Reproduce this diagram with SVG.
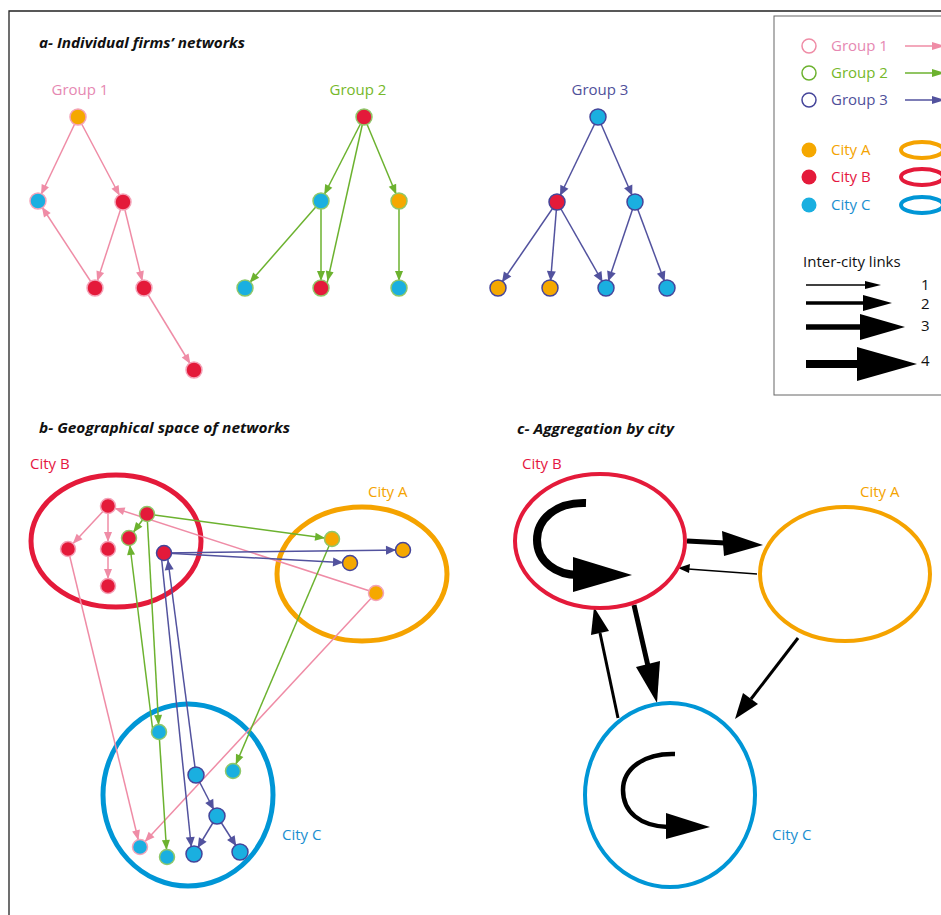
<svg xmlns="http://www.w3.org/2000/svg" width="941" height="915" viewBox="0 0 941 915">
<style>
text{font-family:"Open Sans","Liberation Sans",sans-serif;}
.title{font-weight:bold;font-style:italic;font-size:14px;fill:#111}
.lbl{font-size:15px}
.c1{fill:#e688b2}.c2{fill:#76b82a}.c3{fill:#4f509a}
.cA{fill:#f4a300}.cB{fill:#e5173f}.cC{fill:#1b8fd0}
.e1{stroke:#ef8ca6;stroke-width:1.5;fill:none;marker-end:url(#m1)}
.e2{stroke:#6cb22f;stroke-width:1.5;fill:none;marker-end:url(#m2)}
.e3{stroke:#52529e;stroke-width:1.5;fill:none;marker-end:url(#m3)}
.nO{fill:#f5a800}.nR{fill:#e41a3a}.nB{fill:#1aafe0}
.s1{stroke:#f4a3b8;stroke-width:1.5}.s2{stroke:#8fc86a;stroke-width:1.5}.s3{stroke:#45459a;stroke-width:1.5}
.blk{stroke:#000;fill:none}
.hd{fill:#000}
</style>
<defs>
<marker id="m1" viewBox="0 0 30 20" markerWidth="30" markerHeight="20" markerUnits="userSpaceOnUse" refX="22" refY="10" orient="auto"><path d="M5,6 L15,10 L5,14 z" fill="#ef8ca6"/></marker>
<marker id="m2" viewBox="0 0 30 20" markerWidth="30" markerHeight="20" markerUnits="userSpaceOnUse" refX="22" refY="10" orient="auto"><path d="M5,6 L15,10 L5,14 z" fill="#6cb22f"/></marker>
<marker id="m3" viewBox="0 0 30 20" markerWidth="30" markerHeight="20" markerUnits="userSpaceOnUse" refX="22" refY="10" orient="auto"><path d="M5,5.5 L15,10 L5,14.5 z" fill="#52529e"/></marker>
</defs>
<rect width="941" height="915" fill="#fff"/>
<path d="M9,915 L9,11 L941,11" fill="none" stroke="#222" stroke-width="1.3"/>

<!-- Titles -->
<text class="title" x="39" y="48" textLength="206" lengthAdjust="spacingAndGlyphs">a- Individual firms’ networks</text>
<text class="title" x="39" y="433" textLength="251" lengthAdjust="spacingAndGlyphs">b- Geographical space of networks</text>
<text class="title" x="517" y="434" textLength="157" lengthAdjust="spacingAndGlyphs">c- Aggregation by city</text>

<text class="lbl c1" x="80" y="95" text-anchor="middle">Group 1</text>
<text class="lbl c2" x="358" y="95" text-anchor="middle">Group 2</text>
<text class="lbl c3" x="600" y="95" text-anchor="middle">Group 3</text>

<!-- Legend -->
<g id="legend">
<rect x="774" y="16" width="200" height="379" fill="none" stroke="#666" stroke-width="1"/>
<circle cx="809" cy="46" r="7" fill="none" stroke="#ef8ca6" stroke-width="1.5"/>
<circle cx="809" cy="73" r="7" fill="none" stroke="#6cb22f" stroke-width="1.5"/>
<circle cx="809" cy="100" r="7" fill="none" stroke="#45459a" stroke-width="1.5"/>
<text class="lbl c1" x="831" y="51">Group 1</text>
<text class="lbl c2" x="831" y="78">Group 2</text>
<text class="lbl c3" x="831" y="105">Group 3</text>
<line x1="905" y1="46" x2="935" y2="46" stroke="#ef8ca6" stroke-width="1.5"/><polygon points="932,42 945,46 932,50" fill="#ef8ca6"/>
<line x1="905" y1="73" x2="935" y2="73" stroke="#6cb22f" stroke-width="1.5"/><polygon points="932,69 945,73 932,77" fill="#6cb22f"/>
<line x1="905" y1="100" x2="935" y2="100" stroke="#52529e" stroke-width="1.5"/><polygon points="932,96 945,100 932,104" fill="#52529e"/>
<circle cx="809" cy="150" r="7.5" class="nO"/>
<circle cx="809" cy="177" r="7.5" class="nR"/>
<circle cx="809" cy="205" r="7.5" class="nB"/>
<text class="lbl cA" x="831" y="155">City A</text>
<text class="lbl cB" x="831" y="182">City B</text>
<text class="lbl cC" x="831" y="210">City C</text>
<ellipse cx="922" cy="150" rx="21" ry="8" fill="none" stroke="#f5a300" stroke-width="4"/>
<ellipse cx="922" cy="177" rx="21" ry="8" fill="none" stroke="#e41a3a" stroke-width="4"/>
<ellipse cx="922" cy="205" rx="21" ry="8" fill="none" stroke="#0096d6" stroke-width="4"/>
<text class="lbl" x="803" y="267" fill="#111">Inter-city links</text>
<line x1="806" y1="285" x2="867" y2="285" class="blk" stroke-width="1.5"/><polygon class="hd" points="865,281 881,285 865,289"/>
<line x1="806" y1="303" x2="865" y2="303" class="blk" stroke-width="3.5"/><polygon class="hd" points="863,295 892,303 863,311"/>
<line x1="806" y1="327" x2="862" y2="327" class="blk" stroke-width="5.5"/><polygon class="hd" points="860,314 905,327 860,340"/>
<line x1="806" y1="364" x2="859" y2="364" class="blk" stroke-width="8"/><polygon class="hd" points="857,347 917,364 857,381"/>
<text class="lbl" x="921" y="290" fill="#111">1</text>
<text class="lbl" x="921" y="309" fill="#111">2</text>
<text class="lbl" x="921" y="331" fill="#111">3</text>
<text class="lbl" x="921" y="366" fill="#111">4</text>
</g>

<!-- City ellipses panel b -->
<g id="b-cityB"><ellipse cx="116" cy="541" rx="85" ry="66" fill="none" stroke="#e41a3a" stroke-width="5"/><text class="lbl cB" x="30" y="469">City B</text></g>
<g id="b-cityA"><ellipse cx="362" cy="574" rx="85" ry="67" fill="none" stroke="#f5a300" stroke-width="5"/><text class="lbl cA" x="368" y="497">City A</text></g>
<g id="b-cityC"><ellipse cx="188" cy="795" rx="85" ry="91" fill="none" stroke="#0096d6" stroke-width="5"/><text class="lbl cC" x="282" y="840">City C</text></g>

<!-- Connectors -->
<g id="connectors">
<!-- panel a group 1 -->
<line class="e1" x1="78" y1="117" x2="38" y2="201"/>
<line class="e1" x1="78" y1="117" x2="123" y2="202"/>
<line class="e1" x1="95" y1="288" x2="38" y2="201"/>
<line class="e1" x1="123" y1="202" x2="95" y2="288"/>
<line class="e1" x1="123" y1="202" x2="144" y2="288"/>
<line class="e1" x1="144" y1="288" x2="194" y2="370"/>
<!-- panel a group 2 -->
<line class="e2" x1="364" y1="117" x2="321" y2="201"/>
<line class="e2" x1="364" y1="117" x2="326" y2="288"/>
<line class="e2" x1="364" y1="117" x2="399" y2="201"/>
<line class="e2" x1="321" y1="201" x2="245" y2="288"/>
<line class="e2" x1="321" y1="201" x2="321" y2="288"/>
<line class="e2" x1="399" y1="201" x2="399" y2="288"/>
<!-- panel a group 3 -->
<line class="e3" x1="598" y1="117" x2="557" y2="202"/>
<line class="e3" x1="598" y1="117" x2="635" y2="202"/>
<line class="e3" x1="557" y1="202" x2="498" y2="288"/>
<line class="e3" x1="557" y1="202" x2="550" y2="288"/>
<line class="e3" x1="557" y1="202" x2="606" y2="288"/>
<line class="e3" x1="635" y1="202" x2="606" y2="288"/>
<line class="e3" x1="635" y1="202" x2="667" y2="288"/>
<!-- panel b pink -->
<line class="e1" x1="376" y1="593" x2="108" y2="506"/>
<line class="e1" x1="376" y1="593" x2="140" y2="847"/>
<line class="e1" x1="68" y1="549" x2="140" y2="847"/>
<line class="e1" x1="108" y1="506" x2="68" y2="549"/>
<line class="e1" x1="108" y1="506" x2="108" y2="549"/>
<line class="e1" x1="108" y1="549" x2="108" y2="586"/>
<!-- panel b green -->
<line class="e2" x1="147" y1="514" x2="159" y2="732"/>
<line class="e2" x1="147" y1="514" x2="129" y2="538"/>
<line class="e2" x1="147" y1="514" x2="332" y2="539"/>
<line class="e2" x1="159" y1="732" x2="167" y2="857"/>
<line class="e2" x1="153" y1="732" x2="129" y2="538"/>
<line class="e2" x1="332" y1="539" x2="233" y2="771"/>
<!-- panel b navy -->
<line class="e3" x1="196" y1="775" x2="167" y2="553"/>
<line class="e3" x1="196" y1="775" x2="217" y2="816"/>
<line class="e3" x1="164" y1="553" x2="350" y2="563"/>
<line class="e3" x1="164" y1="553" x2="403" y2="550"/>
<line class="e3" x1="161" y1="553" x2="192" y2="854"/>
<line class="e3" x1="217" y1="816" x2="194" y2="854"/>
<line class="e3" x1="217" y1="816" x2="240" y2="852"/>
<!-- panel c -->
<path class="blk" stroke-width="8" d="M586,503 C555,502 537,520 537,540 C537,562 557,575 578,575"/>
<polygon class="hd" points="573,557 632,575 573,592"/>
<line class="blk" x1="687" y1="541" x2="725" y2="543" stroke-width="5"/>
<polygon class="hd" points="722,531 763,545 724,556"/>
<line class="blk" x1="757" y1="574" x2="688" y2="569" stroke-width="1.5"/>
<polygon class="hd" points="690,564 678,568 689,573"/>
<line class="blk" x1="798" y1="638" x2="751" y2="699" stroke-width="3"/>
<polygon class="hd" points="743,693 735,719 758,704"/>
<line class="blk" x1="634" y1="605" x2="648" y2="666" stroke-width="5"/>
<polygon class="hd" points="636,667 657,703 660,661"/>
<line class="blk" x1="618" y1="718" x2="600" y2="633" stroke-width="3"/>
<polygon class="hd" points="591,635 594,607 609,631"/>
<path class="blk" stroke-width="4.5" d="M675,754 C645,753 623,768 623,790 C623,812 640,826 668,827"/>
<polygon class="hd" points="666,813 710,827 666,839"/>
</g>

<!-- Panel c cities -->
<g id="c-cityB"><ellipse cx="600" cy="541" rx="85" ry="67" fill="none" stroke="#e41a3a" stroke-width="4"/><text class="lbl cB" x="522" y="469">City B</text></g>
<g id="c-cityA"><ellipse cx="845" cy="574" rx="85" ry="67" fill="none" stroke="#f5a300" stroke-width="4"/><text class="lbl cA" x="860" y="497">City A</text></g>
<g id="c-cityC"><ellipse cx="670" cy="795" rx="85" ry="92" fill="none" stroke="#0096d6" stroke-width="4"/><text class="lbl cC" x="772" y="840">City C</text></g>

<!-- Panel a nodes -->
<g id="a1-n1"><circle cx="78" cy="117" r="8" class="nO s1"/></g>
<g id="a1-n2"><circle cx="38" cy="201" r="8" class="nB s1"/></g>
<g id="a1-n3"><circle cx="123" cy="202" r="8" class="nR s1"/></g>
<g id="a1-n4"><circle cx="95" cy="288" r="8" class="nR s1"/></g>
<g id="a1-n5"><circle cx="144" cy="288" r="8" class="nR s1"/></g>
<g id="a1-n6"><circle cx="194" cy="370" r="8" class="nR s1"/></g>
<g id="a2-n1"><circle cx="364" cy="117" r="8" class="nR s2"/></g>
<g id="a2-n2"><circle cx="321" cy="201" r="8" class="nB s2"/></g>
<g id="a2-n3"><circle cx="399" cy="201" r="8" class="nO s2"/></g>
<g id="a2-n4"><circle cx="245" cy="288" r="8" class="nB s2"/></g>
<g id="a2-n5"><circle cx="321" cy="288" r="8" class="nR s2"/></g>
<g id="a2-n6"><circle cx="399" cy="288" r="8" class="nB s2"/></g>
<g id="a3-n1"><circle cx="598" cy="117" r="8" class="nB s3"/></g>
<g id="a3-n2"><circle cx="557" cy="202" r="8" class="nR s3"/></g>
<g id="a3-n3"><circle cx="635" cy="202" r="8" class="nB s3"/></g>
<g id="a3-n4"><circle cx="498" cy="288" r="8" class="nO s3"/></g>
<g id="a3-n5"><circle cx="550" cy="288" r="8" class="nO s3"/></g>
<g id="a3-n6"><circle cx="606" cy="288" r="8" class="nB s3"/></g>
<g id="a3-n7"><circle cx="667" cy="288" r="8" class="nB s3"/></g>

<!-- Panel b nodes -->
<g id="b-B1"><circle cx="108" cy="506" r="7.5" class="nR s1"/></g>
<g id="b-B2"><circle cx="147" cy="514" r="7.5" class="nR s2"/></g>
<g id="b-B3"><circle cx="129" cy="538" r="7.5" class="nR s2"/></g>
<g id="b-B4"><circle cx="164" cy="553" r="7.5" class="nR s3"/></g>
<g id="b-B5"><circle cx="68" cy="549" r="7.5" class="nR s1"/></g>
<g id="b-B6"><circle cx="108" cy="549" r="7.5" class="nR s1"/></g>
<g id="b-B7"><circle cx="108" cy="586" r="7.5" class="nR s1"/></g>
<g id="b-A1"><circle cx="332" cy="539" r="7.5" class="nO s2"/></g>
<g id="b-A2"><circle cx="403" cy="550" r="7.5" class="nO s3"/></g>
<g id="b-A3"><circle cx="350" cy="563" r="7.5" class="nO s3"/></g>
<g id="b-A4"><circle cx="376" cy="593" r="7.5" class="nO s1"/></g>
<g id="b-C1"><circle cx="159" cy="732" r="7.5" class="nB s2"/></g>
<g id="b-C2"><circle cx="196" cy="775" r="8" class="nB s3"/></g>
<g id="b-C3"><circle cx="233" cy="771" r="7.5" class="nB s2"/></g>
<g id="b-C4"><circle cx="217" cy="816" r="8" class="nB s3"/></g>
<g id="b-C5"><circle cx="140" cy="847" r="7.5" class="nB s1"/></g>
<g id="b-C6"><circle cx="167" cy="857" r="7.5" class="nB s2"/></g>
<g id="b-C7"><circle cx="194" cy="854" r="8" class="nB s3"/></g>
<g id="b-C8"><circle cx="240" cy="852" r="8" class="nB s3"/></g>
</svg>
